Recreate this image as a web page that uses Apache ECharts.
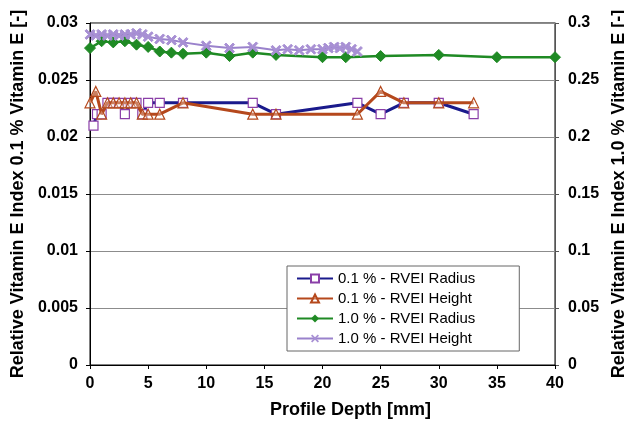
<!DOCTYPE html>
<html><head><meta charset="utf-8">
<script src="https://cdn.jsdelivr.net/npm/echarts@6/dist/echarts.min.js"></script>
<style>html,body{margin:0;padding:0;background:#fff}#c{width:624px;height:425px}</style>
</head><body><div id="c"></div>
<script>
const xTicks = [0, 5, 10, 15, 20, 25, 30, 35, 40];
const leftTicks = [0, 0.005, 0.01, 0.015, 0.02, 0.025, 0.03];
const rightTicks = [0, 0.05, 0.1, 0.15, 0.2, 0.25, 0.3];

const blueDepth = [0.3, 0.6, 1, 1.5, 2, 2.5, 3, 3.5, 4, 4.5, 5, 6, 8, 14, 16, 23, 25, 27, 30, 33];
const blueValue = [0.021, 0.022, 0.022, 0.023, 0.023, 0.023, 0.022, 0.023, 0.023, 0.022, 0.023, 0.023, 0.023, 0.023, 0.022, 0.023, 0.022, 0.023, 0.023, 0.022];

const orangeDepth = [0, 0.5, 1, 1.5, 2, 2.5, 3, 3.5, 4, 4.5, 5, 6, 8, 14, 16, 23, 25, 27, 30, 33];
const orangeValue = [0.023, 0.024, 0.022, 0.023, 0.023, 0.023, 0.023, 0.023, 0.023, 0.022, 0.022, 0.022, 0.023, 0.022, 0.022, 0.022, 0.024, 0.023, 0.023, 0.023];

const greenDepth = [0, 1, 2, 3, 4, 5, 6, 7, 8, 10, 12, 14, 16, 20, 22, 25, 30, 35, 40];
const greenValue = [0.278, 0.284, 0.283, 0.284, 0.281, 0.279, 0.275, 0.274, 0.273, 0.274, 0.271, 0.274, 0.272, 0.270, 0.270, 0.271, 0.272, 0.270, 0.270];

const purpleDepth = [0, 0.5, 1, 1.5, 2, 2.5, 3, 3.5, 4, 4.5, 5, 6, 7, 8, 10, 12, 14, 16, 17, 18, 19, 20, 20.5, 21, 21.5, 22, 22.5, 23];
const purpleValue = [0.290, 0.289, 0.290, 0.289, 0.290, 0.289, 0.290, 0.290, 0.291, 0.290, 0.288, 0.286, 0.285, 0.283, 0.280, 0.278, 0.279, 0.276, 0.277, 0.276, 0.277, 0.277, 0.278, 0.279, 0.278, 0.279, 0.277, 0.275];

const names = ['0.1 % - RVEI Radius', '0.1 % - RVEI Height', '1.0 % - RVEI Radius', '1.0 % - RVEI Height'];

const zip = (a, b) => a.map((v, i) => [v, b[i]]);
const FONT = 'Liberation Sans, Arial, sans-serif';
const xSym = 'path://M0,1.5L1.5,0L5,3.5L8.5,0L10,1.5L6.5,5L10,8.5L8.5,10L5,6.5L1.5,10L0,8.5L3.5,5Z';

const chart = echarts.init(document.getElementById('c'), null, {renderer: 'canvas'});
chart.setOption({
  animation: false,
  backgroundColor: '#fff',
  grid: {left: 90, right: 69, top: 23, bottom: 60, show: true, borderColor: '#000', borderWidth: 1,
    containLabel: false, outerBoundsMode: 'none'},
  legend: {
    orient: 'vertical', left: 287, top: 266,
    data: names,
    itemWidth: 36, itemHeight: 10, itemGap: 5,
    padding: [5, 44, 5, 9],
    borderColor: '#666', borderWidth: 1, backgroundColor: '#fff',
    textStyle: {fontFamily: FONT, fontSize: 15, color: '#000'}
  },
  xAxis: {
    type: 'value', min: xTicks[0], max: xTicks[xTicks.length - 1], interval: 5,
    name: 'Profile Depth [mm]', nameLocation: 'middle', nameGap: 36,
    nameTextStyle: {fontFamily: FONT, fontSize: 18, fontWeight: 'bold', color: '#000', padding: [0, 0, 0, 56]},
    axisLine: {lineStyle: {color: '#000'}},
    axisTick: {show: true, length: 4, lineStyle: {color: '#000'}},
    axisLabel: {fontFamily: FONT, fontSize: 16, fontWeight: 'bold', color: '#000', margin: 11},
    splitLine: {show: false}
  },
  yAxis: [{
    type: 'value', min: leftTicks[0], max: leftTicks[leftTicks.length - 1], interval: 0.005,
    name: 'Relative Vitamin E Index 0.1 % Vitamin E [-]', nameLocation: 'middle', nameGap: 63, nameRotate: 90,
    nameTextStyle: {fontFamily: FONT, fontSize: 18, fontWeight: 'bold', color: '#000'},
    axisLine: {show: true, lineStyle: {color: '#000'}},
    axisTick: {show: true, length: 4, lineStyle: {color: '#000'}},
    axisLabel: {fontFamily: FONT, fontSize: 16, fontWeight: 'bold', color: '#000', margin: 12,
      formatter: v => String(parseFloat(v.toFixed(4)))},
    splitLine: {show: true, lineStyle: {color: '#8c8c8c', width: 1}}
  }, {
    type: 'value', position: 'right', min: rightTicks[0], max: rightTicks[rightTicks.length - 1], interval: 0.05,
    name: 'Relative Vitamin E Index 1.0 % Vitamin E [-]', nameLocation: 'middle', nameGap: 46, nameRotate: 90,
    nameTextStyle: {fontFamily: FONT, fontSize: 18, fontWeight: 'bold', color: '#000'},
    axisLine: {show: true, lineStyle: {color: '#555'}},
    axisTick: {show: true, length: 4, lineStyle: {color: '#555'}},
    axisLabel: {fontFamily: FONT, fontSize: 16, fontWeight: 'bold', color: '#000', margin: 13,
      formatter: v => String(parseFloat(v.toFixed(4)))},
    splitLine: {show: false}
  }],
  series: [{
    name: names[0], type: 'line', yAxisIndex: 0, data: zip(blueDepth, blueValue),
    symbol: 'rect', symbolSize: 9,
    lineStyle: {color: '#1a1a8c', width: 3},
    itemStyle: {color: '#fff', borderColor: '#8a3fa8', borderWidth: 1.2},
    z: 3
  }, {
    name: names[1], type: 'line', yAxisIndex: 0, data: zip(orangeDepth, orangeValue),
    symbol: 'triangle', symbolSize: 10,
    lineStyle: {color: '#b5481c', width: 3},
    itemStyle: {color: 'rgba(255,255,255,0.3)', borderColor: '#b5481c', borderWidth: 1.2},
    z: 4
  }, {
    name: names[2], type: 'line', yAxisIndex: 1, data: zip(greenDepth, greenValue),
    symbol: 'diamond', symbolSize: 11,
    lineStyle: {color: '#1f8a24', width: 2.5},
    itemStyle: {color: '#1f8a24', borderColor: '#1f8a24'},
    z: 3
  }, {
    name: names[3], type: 'line', yAxisIndex: 1, data: zip(purpleDepth, purpleValue),
    symbol: xSym, symbolSize: 10,
    lineStyle: {color: '#9a82cc', width: 2},
    itemStyle: {color: '#a890d4', borderColor: '#a890d4'},
    z: 4
  }]
});
</script>
</body></html>
